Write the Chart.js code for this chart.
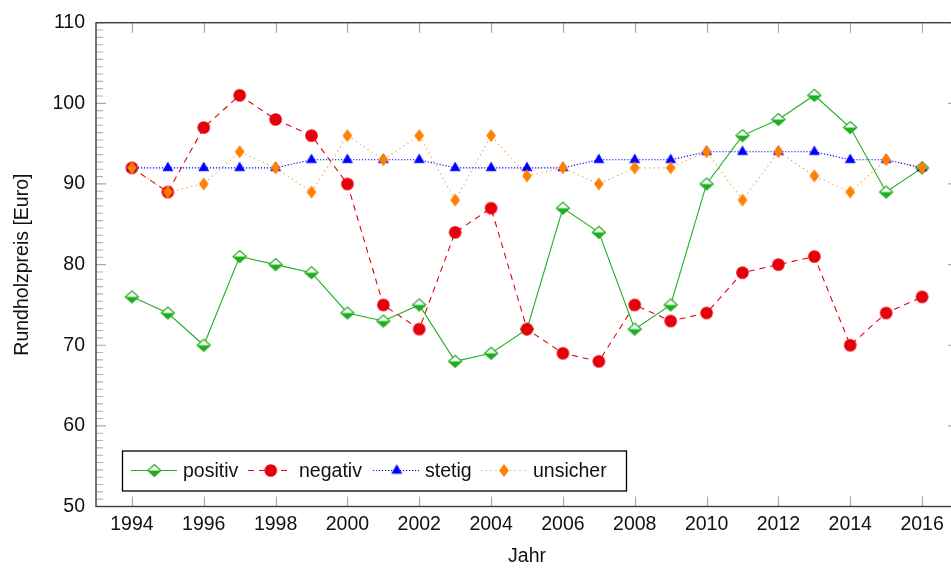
<!DOCTYPE html>
<html>
<head>
<meta charset="utf-8">
<script src="https://cdn.jsdelivr.net/npm/chart.js@4/dist/chart.umd.min.js"></script>
<style>
  html, body { margin: 0; padding: 0; background: #fff; overflow: hidden; }
  #wrap { width: 980px; height: 570px; }
</style>
</head>
<body>
<div id="wrap"><canvas id="c" width="980" height="570"></canvas></div>
<script>
// Round-wood price per year, four price scenarios
const years    = [1994,1995,1996,1997,1998,1999,2000,2001,2002,2003,2004,2005,2006,2007,2008,2009,2010,2011,2012,2013,2014,2015,2016];
const positiv  = [76,74,70,81,80,79,74,73,75,68,69,72,87,84,72,75,90,96,98,101,97,89,92];
const negativ  = [92,89,97,101,98,96,90,75,72,84,87,72,69,68,75,73,74,79,80,81,70,74,76];
const stetig   = [92,92,92,92,92,93,93,93,93,92,92,92,92,93,93,93,94,94,94,94,93,93,92];
const unsicher = [92,89,90,94,92,89,96,93,96,88,96,91,92,90,92,92,94,88,94,91,89,93,92];
const xTicks   = [1994,1996,1998,2000,2002,2004,2006,2008,2010,2012,2014,2016];
const yTicks   = [50,60,70,80,90,100,110];
const seriesNames = ['positiv','negativ','stetig','unsicher'];

const GREEN = '#1fae1f', RED = '#e6000b', BLUE = '#0000ff', ORANGE = '#ff8000';
const FONT = '"Liberation Sans", Arial, Helvetica, sans-serif';

function makeCanvas(w, h, draw) {
  const c = document.createElement('canvas');
  c.width = w; c.height = h;
  draw(c.getContext('2d'), w, h);
  return c;
}
// open diamond with filled lower half
const halfDiamond = makeCanvas(16, 15, (g, w, h) => {
  const cx = w / 2, cy = h / 2, a = 6.6, b = 6;
  g.beginPath();
  g.moveTo(cx, cy - b); g.lineTo(cx + a, cy); g.lineTo(cx, cy + b); g.lineTo(cx - a, cy); g.closePath();
  g.fillStyle = '#fff'; g.fill();
  g.beginPath();
  g.moveTo(cx - a, cy); g.lineTo(cx + a, cy); g.lineTo(cx, cy + b); g.closePath();
  g.fillStyle = GREEN; g.fill();
  g.beginPath();
  g.moveTo(cx, cy - b); g.lineTo(cx + a, cy); g.lineTo(cx, cy + b); g.lineTo(cx - a, cy); g.closePath();
  g.strokeStyle = GREEN; g.lineWidth = 1.2; g.stroke();
});
// filled triangle, centred on its centroid
const triangle = makeCanvas(14, 14, (g, w, h) => {
  const cx = w / 2, cy = h / 2, hh = 9.4, hw = 5.5;
  g.beginPath();
  g.moveTo(cx, cy - 2 * hh / 3); g.lineTo(cx + hw, cy + hh / 3); g.lineTo(cx - hw, cy + hh / 3); g.closePath();
  g.fillStyle = BLUE; g.fill();
});
// narrow filled diamond
const tallDiamond = makeCanvas(12, 15, (g, w, h) => {
  const cx = w / 2, cy = h / 2, a = 4.9, b = 6.6;
  g.beginPath();
  g.moveTo(cx, cy - b); g.lineTo(cx + a, cy); g.lineTo(cx, cy + b); g.lineTo(cx - a, cy); g.closePath();
  g.fillStyle = ORANGE; g.fill();
});
const redDot = makeCanvas(15, 15, (g, w, h) => {
  g.beginPath(); g.arc(w / 2, h / 2, 6.3, 0, Math.PI * 2);
  g.fillStyle = RED; g.fill();
});

const toXY = arr => arr.map((v, i) => ({ x: years[i], y: v }));

// frame, inward ticks and minor ticks in the style of a boxed plot
const framePlugin = {
  id: 'frame',
  afterDatasetsDraw(chart) {
    const { ctx, chartArea: a, scales: { x, y } } = chart;
    ctx.save();
    ctx.strokeStyle = '#a8a8a8';
    ctx.lineWidth = 1.2;
    ctx.beginPath();
    xTicks.forEach(v => {
      const px = Math.round(x.getPixelForValue(v)) + 0.5;
      ctx.moveTo(px, a.bottom); ctx.lineTo(px, a.bottom - 10);
      ctx.moveTo(px, a.top); ctx.lineTo(px, a.top + 10);
    });
    yTicks.forEach(v => {
      const py = y.getPixelForValue(v);
      ctx.moveTo(a.left, py); ctx.lineTo(a.left + 10, py);
      ctx.moveTo(a.right, py); ctx.lineTo(a.right - 10, py);
    });
    ctx.stroke();
    ctx.strokeStyle = '#b4b4b4';
    ctx.lineWidth = 1.1;
    ctx.beginPath();
    for (let k = 0; k < yTicks.length - 1; k++) {
      const step = (yTicks[k + 1] - yTicks[k]) / 11;
      for (let m = 1; m <= 10; m++) {
        const py = y.getPixelForValue(yTicks[k] + m * step);
        ctx.moveTo(a.left, py); ctx.lineTo(a.left + 7, py);
        ctx.moveTo(a.right, py); ctx.lineTo(a.right - 7, py);
      }
    }
    ctx.stroke();
    ctx.strokeStyle = '#3c3c3c';
    ctx.lineWidth = 1.4;
    ctx.strokeRect(a.left, a.top, a.right - a.left, a.bottom - a.top);
    ctx.restore();
  },
  afterDraw(chart) {
    // legend box with line sample, marker and name per series
    const { ctx } = chart;
    const box = { l: 122.5, t: 451, r: 626.5, b: 491 };
    const cy = 470.5;
    const items = [
      { x0: 131, x1: 177, mx: 154.3, tx: 183 },
      { x0: 248, x1: 290, mx: 270.7, tx: 299 },
      { x0: 373, x1: 419, mx: 396.7, tx: 425 },
      { x0: 481, x1: 527, mx: 504,   tx: 533 }
    ];
    ctx.save();
    ctx.fillStyle = '#fff';
    ctx.fillRect(box.l, box.t, box.r - box.l, box.b - box.t);
    ctx.strokeStyle = '#000';
    ctx.lineWidth = 1.3;
    ctx.strokeRect(box.l, box.t, box.r - box.l, box.b - box.t);
    chart.data.datasets.forEach((ds, i) => {
      const it = items[i];
      ctx.save();
      ctx.strokeStyle = ds.borderColor;
      ctx.lineWidth = ds.borderWidth;
      ctx.setLineDash(ds.borderDash || []);
      ctx.beginPath();
      ctx.moveTo(it.x0, cy); ctx.lineTo(it.x1, cy);
      ctx.stroke();
      ctx.restore();
      const img = ds.pointStyle;
      ctx.drawImage(img, it.mx - img.width / 2, cy - img.height / 2);
      ctx.fillStyle = '#111';
      ctx.font = '19.5px ' + FONT;
      ctx.textBaseline = 'middle';
      ctx.textAlign = 'left';
      ctx.fillText(ds.label, it.tx, cy + 1);
    });
    ctx.restore();
  }
};

const datasets = [
  { label: seriesNames[0], data: toXY(positiv),  borderColor: GREEN,  borderWidth: 1.1, borderDash: [],
    pointStyle: halfDiamond, order: 3 },
  { label: seriesNames[1], data: toXY(negativ),  borderColor: RED,    borderWidth: 1.1, borderDash: [6, 5],
    pointStyle: redDot, order: 2 },
  { label: seriesNames[2], data: toXY(stetig),   borderColor: BLUE,   borderWidth: 1.1, borderDash: [1.2, 1.8],
    pointStyle: triangle, order: 1 },
  { label: seriesNames[3], data: toXY(unsicher), borderColor: 'rgba(255,128,0,0.85)', borderWidth: 1.1, borderDash: [1.2, 3.6],
    pointStyle: tallDiamond, order: 0 }
].map(d => Object.assign(d, { fill: false, tension: 0, pointRadius: 6, pointHoverRadius: 6,
  pointBackgroundColor: d.borderColor, pointBorderWidth: 0 }));

new Chart(document.getElementById('c'), {
  type: 'line',
  data: { datasets },
  options: {
    responsive: false,
    animation: false,
    devicePixelRatio: 1,
    layout: { padding: { left: 0, right: 22, top: 22, bottom: 0 } },
    plugins: { legend: { display: false }, tooltip: { enabled: false } },
    events: [],
    scales: {
      x: {
        type: 'linear', min: 1993, max: 2017,
        afterBuildTicks: s => { s.ticks = xTicks.map(v => ({ value: v })); },
        afterFit: s => { s.height = 63.5; },
        grid: { display: false, drawTicks: false },
        border: { display: false },
        ticks: { color: '#111', font: { family: FONT, size: 19.5 }, padding: 6, maxRotation: 0, autoSkip: false,
                 callback: v => String(v) },
        title: { display: true, text: 'Jahr', color: '#111', font: { family: FONT, size: 19.5 }, padding: { top: 0, bottom: 2 } }
      },
      y: {
        min: 50, max: 110,
        afterBuildTicks: s => { s.ticks = yTicks.map(v => ({ value: v })); },
        afterFit: s => { s.width = 96; },
        grid: { display: false, drawTicks: false },
        border: { display: false },
        ticks: { color: '#111', font: { family: FONT, size: 19.5 }, padding: 11, callback: v => String(v) },
        title: { display: true, text: 'Rundholzpreis [Euro]', color: '#111', font: { family: FONT, size: 19.5 }, padding: { top: 11, bottom: 0 } }
      }
    }
  },
  plugins: [framePlugin]
});
</script>
</body>
</html>
